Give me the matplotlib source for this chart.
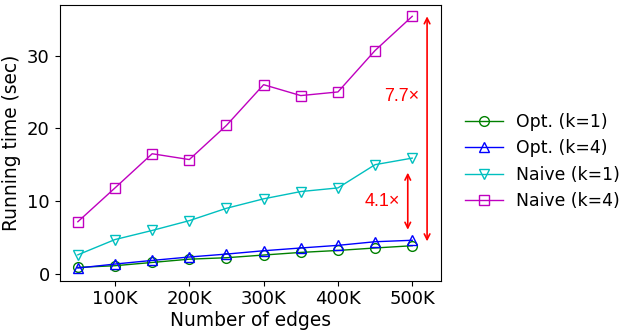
import matplotlib
matplotlib.use("Agg")
import matplotlib.pyplot as plt

# Running time vs. graph size
edges = [50e3, 100e3, 150e3, 200e3, 250e3, 300e3, 350e3, 400e3, 450e3, 500e3]
opt_k1 = [0.87, 1.1, 1.55, 2.0, 2.2, 2.57, 2.93, 3.2, 3.54, 3.85]
opt_k4 = [0.78, 1.33, 1.83, 2.3, 2.7, 3.16, 3.54, 3.9, 4.4, 4.6]
naive_k1 = [2.6, 4.7, 5.95, 7.3, 9.0, 10.3, 11.3, 11.8, 15.0, 15.9]
naive_k4 = [7.15, 11.8, 16.5, 15.7, 20.4, 26.0, 24.5, 25.0, 30.7, 35.4]

xticks = [100e3, 200e3, 300e3, 400e3, 500e3]
xtick_labels = ["100K", "200K", "300K", "400K", "500K"]
yticks = [0, 10, 20, 30]

fig = plt.figure(figsize=(6.2, 3.31), dpi=100)
ax = fig.add_axes([59.5 / 620, 50.3 / 331, 382 / 620, 276 / 331])

ms = 7
ax.plot(edges, opt_k1, color="g", marker="o", mfc="none", ms=ms, lw=1, label="Opt. (k=1)")
ax.plot(edges, opt_k4, color="b", marker="^", mfc="none", ms=ms, lw=1, label="Opt. (k=4)")
ax.plot(edges, naive_k1, color="c", marker="v", mfc="none", ms=ms, lw=1, label="Naive (k=1)")
ax.plot(edges, naive_k4, color="m", marker="s", mfc="none", ms=6.6, lw=1, label="Naive (k=4)")

# speedup arrows at the largest graph
ax.annotate("", xy=(520e3, naive_k4[-1]), xytext=(520e3, opt_k4[-1] - 0.15),
            arrowprops=dict(arrowstyle="<->", color="red", lw=1.2, shrinkA=0, shrinkB=0))
ax.text(509e3, 24.4, "7.7×", color="red", fontsize=13, family="Liberation Sans",
        ha="right", va="center")
ax.annotate("", xy=(494e3, 13.9), xytext=(494e3, 6.05),
            arrowprops=dict(arrowstyle="<->", color="red", lw=1.2, shrinkA=0, shrinkB=0))
ax.text(483e3, 9.95, "4.1×", color="red", fontsize=13, family="Liberation Sans",
        ha="right", va="center")

ax.set_xlim(25.3e3, 539.4e3)
ax.set_ylim(-0.96, 37.0)
ax.set_xticks(xticks)
ax.set_xticklabels(xtick_labels)
ax.set_yticks(yticks)
ax.tick_params(labelsize=13)
ax.set_xlabel("Number of edges", fontsize=13.4, labelpad=2)
ax.set_ylabel("Running time (sec)", fontsize=13.4)

ax.legend(loc="center left", bbox_to_anchor=(1.02, 0.432), frameon=False,
          fontsize=12.4, handlelength=2.2)

fig.savefig("out.png", dpi=100)
